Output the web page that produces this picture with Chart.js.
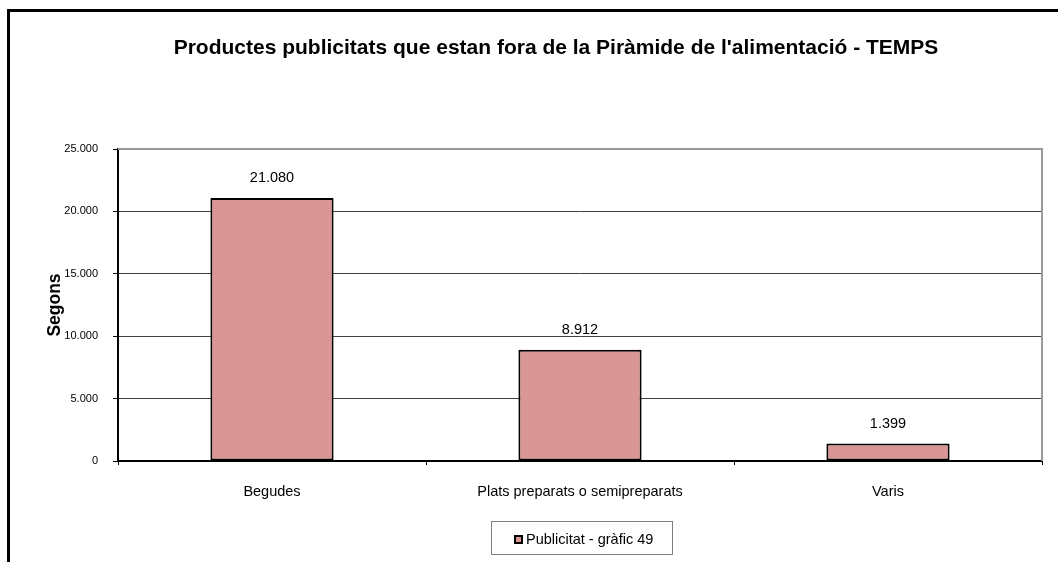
<!DOCTYPE html>
<html lang="ca">
<head>
    <meta charset="UTF-8">
    <title>Productes publicitats - TEMPS</title>
    <script src="https://cdn.jsdelivr.net/npm/chart.js"></script>
    <style>
        html, body { margin: 0; padding: 0; background: #fff; }
    </style>
</head>
<body>
    <canvas id="chart" width="1058" height="562"></canvas>

    <script>
        // Data
        const categories = ['Begudes', 'Plats preparats o semipreparats', 'Varis'];
        const seconds = [21080, 8912, 1399];
        const seriesName = 'Publicitat - gràfic 49';
        const chartTitle = "Productes publicitats que estan fora de la Piràmide de l'alimentació - TEMPS";
        const yTicks = [0, 5000, 10000, 15000, 20000, 25000];

        const FONT = '"Liberation Sans", Arial, sans-serif';
        const barFill = '#d99694';

        // 21080 -> "21.080"
        function fmt(v) {
            return String(v).replace(/\B(?=(\d{3})+(?!\d))/g, '.');
        }

        // frame, title, plot border, value labels and legend box
        const decor = {
            id: 'decor',
            beforeDraw(chart) {
                const ctx = chart.ctx;
                ctx.save();
                ctx.fillStyle = '#fff';
                ctx.fillRect(0, 0, chart.width, chart.height);
                ctx.strokeStyle = '#000';
                ctx.lineWidth = 3;
                ctx.strokeRect(8.5, 10.5, 1200, 700);
                ctx.restore();
            },
            afterDatasetsDraw(chart) {
                const ctx = chart.ctx;
                const a = chart.chartArea;
                ctx.save();

                // gray plot border top + right
                ctx.strokeStyle = '#999';
                ctx.lineWidth = 2;
                ctx.beginPath();
                ctx.moveTo(a.left, a.top);
                ctx.lineTo(a.right, a.top);
                ctx.lineTo(a.right, a.bottom);
                ctx.stroke();

                // title
                ctx.fillStyle = '#000';
                ctx.font = 'bold 21px ' + FONT;
                ctx.textAlign = 'center';
                ctx.textBaseline = 'middle';
                ctx.fillText(chartTitle, 556, 48);

                // value labels
                ctx.font = '14.5px ' + FONT;
                chart.getDatasetMeta(0).data.forEach((bar, i) => {
                    ctx.fillText(fmt(seconds[i]), bar.x, bar.y - 20);
                });

                // legend box
                ctx.strokeStyle = '#808080';
                ctx.lineWidth = 1;
                ctx.strokeRect(491.5, 521.5, 181, 33);
                ctx.fillStyle = barFill;
                ctx.fillRect(514, 535, 9, 9);
                ctx.strokeStyle = '#000';
                ctx.lineWidth = 2;
                ctx.strokeRect(515, 536, 7, 7);
                ctx.fillStyle = '#000';
                ctx.font = '14.5px ' + FONT;
                ctx.textAlign = 'left';
                ctx.fillText(seriesName, 526, 539.5);

                ctx.restore();
            }
        };

        new Chart(document.getElementById('chart'), {
            type: 'bar',
            data: {
                labels: categories,
                datasets: [{
                    label: seriesName,
                    data: seconds,
                    backgroundColor: barFill,
                    borderColor: '#000',
                    borderWidth: 2,
                    borderSkipped: false,
                    categoryPercentage: 1,
                    barPercentage: 0.4
                }]
            },
            options: {
                responsive: false,
                animation: false,
                devicePixelRatio: 1,
                layout: { padding: { left: 0, top: 149, right: 16, bottom: 61 } },
                plugins: {
                    legend: { display: false },
                    title: { display: false },
                    tooltip: { enabled: false }
                },
                scales: {
                    x: {
                        afterFit(scale) { scale.height = 40; },
                        grid: {
                            drawOnChartArea: false,
                            drawTicks: true,
                            tickLength: 4,
                            color: '#000'
                        },
                        border: { color: '#000', width: 2 },
                        ticks: {
                            color: '#000',
                            padding: 18,
                            font: { family: FONT, size: 14.5 }
                        }
                    },
                    y: {
                        min: 0,
                        max: 25000,
                        afterFit(scale) { scale.width = 118; },
                        afterBuildTicks(scale) {
                            scale.ticks = yTicks.map(v => ({ value: v }));
                        },
                        grid: {
                            color: ctx => ctx.tick && ctx.tick.value === 25000 ? 'rgba(0,0,0,0)' : '#404040',
                            tickColor: '#000',
                            tickLength: 5,
                            lineWidth: 1
                        },
                        border: { color: '#000', width: 2 },
                        ticks: {
                            color: '#000',
                            padding: 15,
                            font: { family: FONT, size: 11 },
                            callback: v => fmt(v)
                        },
                        title: {
                            display: true,
                            text: 'Segons',
                            color: '#000',
                            font: { family: FONT, size: 17.5, weight: 'bold' },
                            padding: { top: 45, bottom: 0 }
                        }
                    }
                }
            },
            plugins: [decor]
        });
    </script>
</body>
</html>
